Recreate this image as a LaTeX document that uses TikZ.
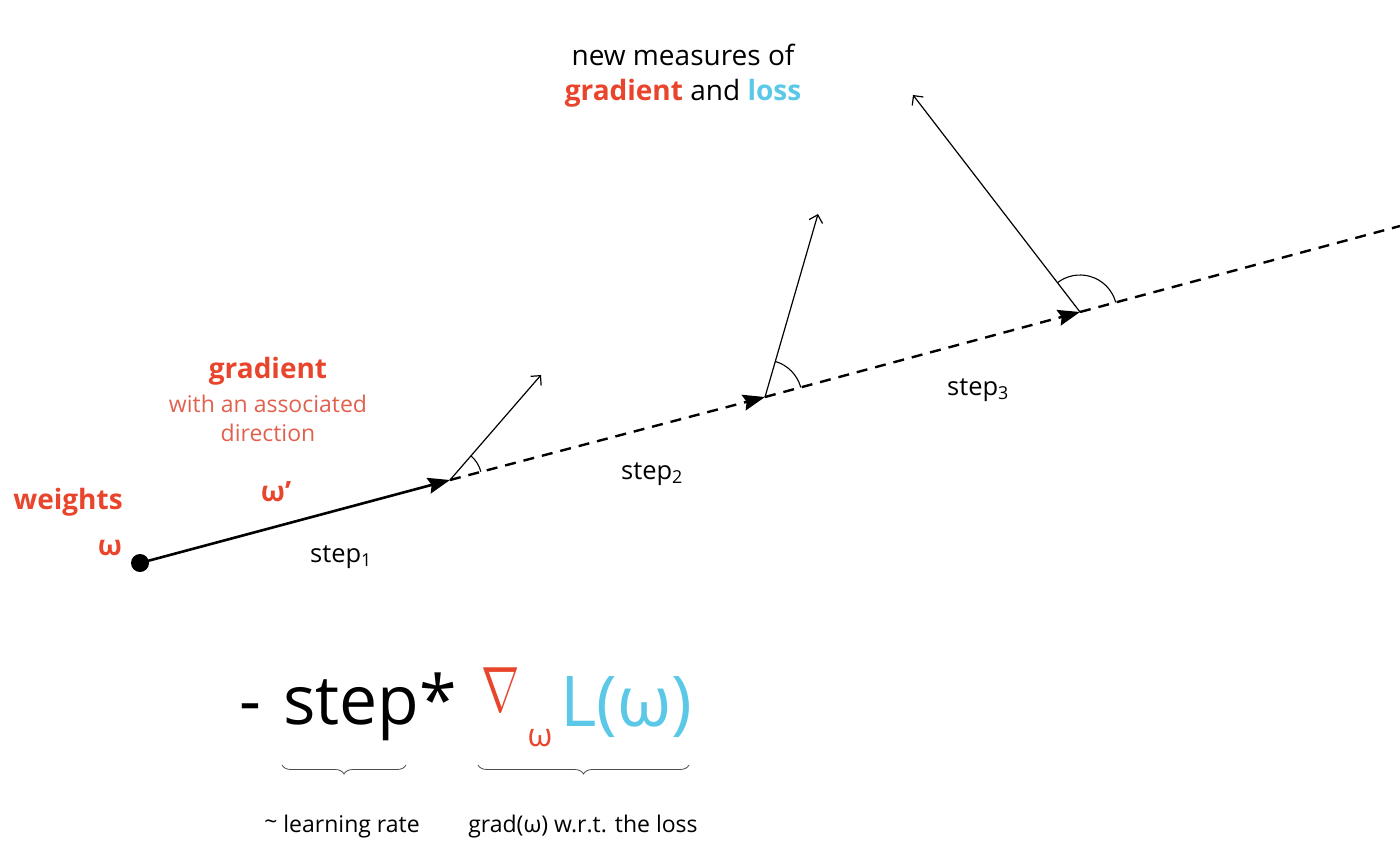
\documentclass[tikz,border=0pt]{standalone}
\usepackage{fontspec}
\setmainfont{Open Sans}
\usetikzlibrary{arrows.meta,angles,decorations.pathreplacing}
\definecolor{gred}{HTML}{E8452C}
\definecolor{lred}{HTML}{E2604E}
\definecolor{lcyan}{HTML}{5BC8E8}
\tikzset{
  txt/.style={inner sep=0pt, anchor=center},
  redbold/.style={txt, text=gred, font=\fontsize{28}{32}\selectfont\bfseries},
  steplbl/.style={txt, font=\fontsize{25.5}{30}\selectfont},
  note/.style={txt, text=lred, font=\fontsize{23}{27}\selectfont},
  small/.style={txt, font=\fontsize{23}{27}\selectfont},
  title/.style={txt, font=\fontsize{28}{32}\selectfont},
  mainpath/.style={line width=2.6pt, -{Stealth[length=22pt,width=16pt,inset=3pt]}},
  dashpath/.style={line width=2.4pt, dash pattern=on 11pt off 8pt},
  dashtip/.style={dashpath, -{Stealth[length=22pt,width=16pt,inset=3pt]}},
  gradarrow/.style={line width=1.2pt, -{Straight Barb[length=7pt,width=14pt]}},
  anglearc/.style={draw, line width=1.1pt},
  bracestyle/.style={decorate, decoration={brace, mirror, amplitude=9pt}, line width=0.8pt, draw=black!70},
}
\begin{document}
\begin{tikzpicture}[x=1pt,y=1pt]
\useasboundingbox (0,0) rectangle (1400,-857);
% key points
\coordinate (w0) at (140,-563);
\coordinate (p1) at (450,-480);
\coordinate (p2) at (765,-397);
\coordinate (p3) at (1080,-312);
\coordinate (pend) at (1400,-226);
\coordinate (g1) at (541,-375);
\coordinate (g2) at (818,-214);
\coordinate (g3) at (913,-95);
% path
\draw[mainpath] (w0) -- (p1);
\draw[dashtip] (p1) -- (p2);
\draw[dashtip] (p2) -- (p3);
\draw[dashpath] (p3) -- (pend);
\fill (w0) circle (9pt);
% gradients
\draw[gradarrow] (p1) -- (g1);
\draw[gradarrow] (p2) -- (g2);
\draw[gradarrow] (p3) -- (g3);
\pic[anglearc, angle radius=32pt] {angle = pend--p1--g1};
\pic[anglearc, angle radius=37pt] {angle = pend--p2--g2};
\pic[anglearc, angle radius=37pt] {angle = pend--p3--g3};
% labels
\node[title] (nm) at (683,-55) {new measures of};
\node[title] (gl) at (683,-93) {{\bfseries\color{gred}gradient} and {\bfseries\color{lcyan}loss}};
\node[redbold] (grad) at (268,-371) {gradient};
\node[note] (assoc) at (268,-404) {with an associated};
\node[note] (dir) at (268,-433) {direction};
\node[redbold] (wt) at (68,-502) {weights};
\node[redbold] (om) at (110,-548) {ω};
\node[redbold] (omp) at (276,-492) {ω’};
\node[steplbl] (s1) at (341,-557) {step\textsubscript{1}};
\node[steplbl] (s2) at (652,-474) {step\textsubscript{2}};
\node[steplbl] (s3) at (978,-390) {step\textsubscript{3}};
% formula
\node[txt, anchor=base west, font=\fontsize{68}{72}\selectfont] (minus) at (239,-724) {-};
\node[txt, anchor=base west, font=\fontsize{68}{72}\selectfont] (stepf) at (283,-724) {step*};
\node[txt, text=gred] (nab) at (501,-690) {\scalebox{4.6}[6.4]{$\nabla$}};
\node[txt, text=gred, font=\fontsize{32}{36}\selectfont] (sub) at (540,-738) {ω};
\node[txt, anchor=base west, text=lcyan, font=\fontsize{70}{74}\selectfont] (loss) at (560,-726) {L(ω)};
% braces
\coordinate (b1a) at (282,-765);
\coordinate (b1b) at (406,-765);
\coordinate (b2a) at (478,-765);
\coordinate (b2b) at (689,-765);
\draw[bracestyle] (b1a) -- (b1b);
\draw[bracestyle] (b2a) -- (b2b);
\node[small] (lr) at (342,-827) {\raisebox{0.25ex}{\char`\~} learning rate};
\node[small] (gw) at (583,-827) {grad(ω) w.r.t. the loss};
\end{tikzpicture}
\end{document}
